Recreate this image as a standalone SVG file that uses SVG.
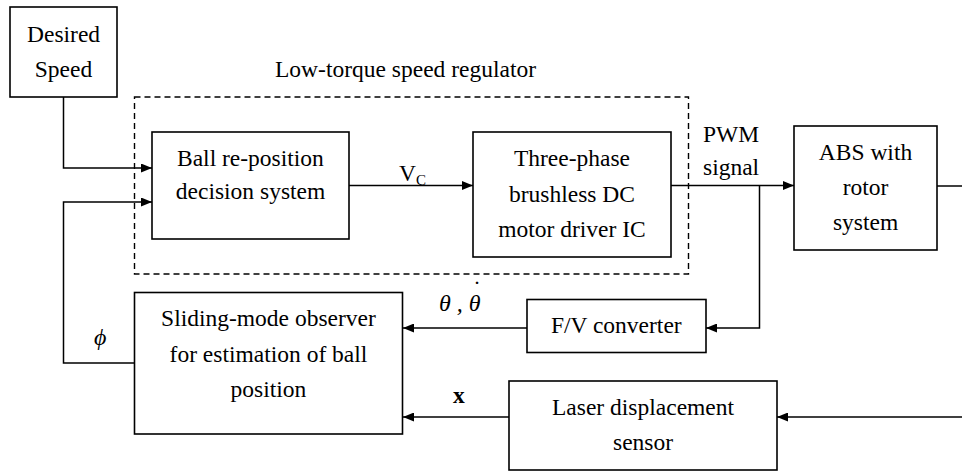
<svg xmlns="http://www.w3.org/2000/svg" width="962" height="471" viewBox="0 0 962 471">
<defs>
<marker id="ah" viewBox="0 0 11 9" refX="11" refY="4.5" markerWidth="11" markerHeight="9" markerUnits="userSpaceOnUse" orient="auto">
<path d="M0,0 L11,4.5 L0,9 Z" fill="#000"/>
</marker>
</defs>
<style>
.box{fill:#fff;stroke:#000;stroke-width:1.6}
.dash{fill:none;stroke:#000;stroke-width:1.4;stroke-dasharray:6 4}
.ln{fill:none;stroke:#000;stroke-width:1.5}
.arr{fill:none;stroke:#000;stroke-width:1.5;marker-end:url(#ah)}
.lbl{font-family:'Liberation Serif',serif;font-size:23.5px;fill:#000}
.ital{font-style:italic;font-size:24px}
.bold{font-weight:bold}
</style>
<rect width="962" height="471" fill="#fff"/>

<g id="regulator">
<rect class="dash" x="134.5" y="97" width="554" height="177"/>
<text class="lbl" style="font-family:'Liberation Serif',serif !important" x="275" y="77">Low-torque speed regulator</text>
</g>

<g id="connectors">
<polyline class="arr" points="63.5,97 63.5,168 152,168"/>
<polyline class="arr" points="134,363 63.5,363 63.5,202 152,202"/>
<line class="arr" x1="349" y1="185.5" x2="473" y2="185.5"/>
<line class="arr" x1="671" y1="185.5" x2="794" y2="185.5"/>
<line class="ln" x1="937" y1="186" x2="962" y2="186"/>
<polyline class="arr" points="759.5,185.5 759.5,328 706,328"/>
<line class="arr" x1="527" y1="328" x2="403" y2="328"/>
<line class="arr" x1="509" y1="417" x2="403" y2="417"/>
<line class="arr" x1="962" y1="417" x2="777" y2="417"/>
<text class="lbl" x="399" y="181">V<tspan font-size="15" dy="4">C</tspan></text>
<text class="lbl" x="703" y="142">PWM</text>
<text class="lbl" x="703" y="175">signal</text>
<text class="lbl ital" x="439" y="311">θ , θ<tspan dx="-9" dy="-14">˙</tspan></text>
<text class="lbl ital" x="94" y="345">ϕ</text>
<text class="lbl bold" x="453" y="403">x</text>
</g>

<g id="desired">
<rect class="box" x="10" y="7" width="107" height="90"/>
<text class="lbl" style="font-family:'Liberation Serif',serif !important" x="27" y="42">Desired</text>
<text class="lbl" style="font-family:'Liberation Serif',serif !important" x="34.8" y="77">Speed</text>
</g>

<g id="ball">
<rect class="box" x="152" y="132" width="197" height="107"/>
<text class="lbl" style="font-family:'Liberation Serif',serif !important" x="177" y="166">Ball re-position</text>
<text class="lbl" style="font-family:'Liberation Serif',serif !important" x="175.8" y="199">decision system</text>
</g>

<g id="driver">
<rect class="box" x="473" y="132" width="198" height="125"/>
<text class="lbl" style="font-family:'Liberation Serif',serif !important" x="513.9" y="166">Three-phase</text>
<text class="lbl" style="font-family:'Liberation Serif',serif !important" x="509" y="202">brushless DC</text>
<text class="lbl" style="font-family:'Liberation Serif',serif !important" x="498.2" y="237">motor driver IC</text>
</g>

<g id="abs">
<rect class="box" x="794" y="126" width="143" height="124"/>
<text class="lbl" style="font-family:'Liberation Serif',serif !important" x="818.8" y="160">ABS with</text>
<text class="lbl" style="font-family:'Liberation Serif',serif !important" x="842.7" y="195">rotor</text>
<text class="lbl" style="font-family:'Liberation Serif',serif !important" x="832.9" y="230">system</text>
</g>

<g id="fv">
<rect class="box" x="527" y="299.5" width="179" height="53"/>
<text class="lbl" style="font-family:'Liberation Serif',serif !important" x="550.9" y="333">F/V converter</text>
</g>

<g id="observer">
<rect class="box" x="134.5" y="292.5" width="268" height="141.5"/>
<text class="lbl" style="font-family:'Liberation Serif',serif !important" x="161.1" y="326">Sliding-mode observer</text>
<text class="lbl" style="font-family:'Liberation Serif',serif !important" x="169.6" y="362">for estimation of ball</text>
<text class="lbl" style="font-family:'Liberation Serif',serif !important" x="230.6" y="397">position</text>
</g>

<g id="laser">
<rect class="box" x="509" y="381" width="268" height="89"/>
<text class="lbl" style="font-family:'Liberation Serif',serif !important" x="552" y="415">Laser displacement</text>
<text class="lbl" style="font-family:'Liberation Serif',serif !important" x="613" y="450">sensor</text>
</g>
</svg>
